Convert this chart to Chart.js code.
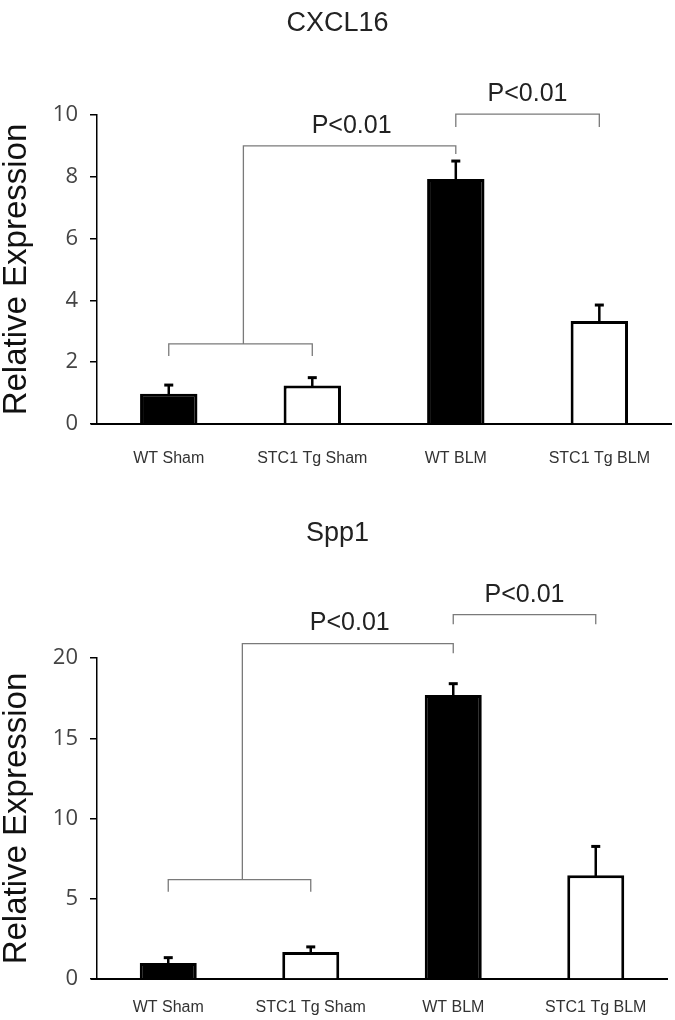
<!DOCTYPE html>
<html>
<head>
<meta charset="utf-8">
<script src="https://cdn.jsdelivr.net/npm/chart.js@4.4.0/dist/chart.umd.min.js"></script>
<style>
  html, body { margin: 0; padding: 0; background: #fff; }
  .box { position: relative; width: 675px; height: 510px; }
</style>
</head>
<body>
<div class="box"><canvas id="graficoCxcl16" width="675" height="510"></canvas></div>
<div class="box"><canvas id="graficoSpp1" width="675" height="510"></canvas></div>
<script>
// dados
const categories = ['WT Sham', 'STC1 Tg Sham', 'WT BLM', 'STC1 Tg BLM'];

const cxcl16Values = [0.98, 1.25, 7.93, 3.33];
const cxcl16Errors = [0.28, 0.25, 0.58, 0.52];
const cxcl16Ticks = { max: 10, step: 2 };

const spp1Values = [1.0, 1.69, 17.7, 6.46];
const spp1Errors = [0.33, 0.31, 0.7, 1.8];
const spp1Ticks = { max: 20, step: 5 };

// colchetes de significância (valores no eixo y)
const cxcl16Sig = { lowY: 2.59, lowDrop: 2.2, highY: 9.0, highDrop: 8.74, rightY: 10.03, rightDrop: 9.61 };
const spp1Sig = { lowY: 6.19, lowDrop: 5.44, highY: 20.9, highDrop: 20.3, rightY: 22.7, rightDrop: 22.1 };
const sigLabel = 'P<0.01';

const fillColors = ['#000', '#fff', '#000', '#fff'];

const extrasPlugin = {
  id: 'extras',
  afterDatasetsDraw(chart, args, opts) {
    const ctx = chart.ctx;
    const meta = chart.getDatasetMeta(0);
    const ys = chart.scales.y;
    const vals = chart.data.datasets[0].data;
    ctx.save();
    ctx.strokeStyle = '#000';
    opts.errors.forEach((e, i) => {
      const bar = meta.data[i];
      const yTop = ys.getPixelForValue(vals[i] + e);
      ctx.lineWidth = 2.5;
      ctx.beginPath();
      ctx.moveTo(bar.x, bar.y + 2);
      ctx.lineTo(bar.x, yTop);
      ctx.stroke();
      ctx.lineWidth = 3;
      ctx.beginPath();
      ctx.moveTo(bar.x - 4.5, yTop);
      ctx.lineTo(bar.x + 4.5, yTop);
      ctx.stroke();
    });
    ctx.restore();
  },
  afterDraw(chart, args, opts) {
    const ctx = chart.ctx;
    const xs = chart.scales.x;
    const ys = chart.scales.y;
    const s = opts.sig;
    const px = v => xs.getPixelForValue(v);
    const py = v => ys.getPixelForValue(v);
    ctx.save();
    // eixo x passa um pouco do eixo y, como no original
    ctx.strokeStyle = '#000';
    ctx.lineWidth = 2;
    ctx.beginPath();
    ctx.moveTo(chart.chartArea.left - 6, chart.chartArea.bottom);
    ctx.lineTo(chart.chartArea.left, chart.chartArea.bottom);
    ctx.stroke();

    ctx.strokeStyle = '#7a7a7a';
    ctx.lineWidth = 1.3;
    // colchete inferior (sham)
    ctx.beginPath();
    ctx.moveTo(px(0), py(s.lowDrop));
    ctx.lineTo(px(0), py(s.lowY));
    ctx.lineTo(px(1), py(s.lowY));
    ctx.lineTo(px(1), py(s.lowDrop));
    ctx.stroke();
    // haste até WT BLM
    const mid = px(0.52);
    ctx.beginPath();
    ctx.moveTo(mid, py(s.lowY));
    ctx.lineTo(mid, py(s.highY));
    ctx.lineTo(px(2), py(s.highY));
    ctx.lineTo(px(2), py(s.highDrop));
    ctx.stroke();
    // colchete WT BLM vs STC1 Tg BLM
    ctx.beginPath();
    ctx.moveTo(px(2), py(s.rightDrop));
    ctx.lineTo(px(2), py(s.rightY));
    ctx.lineTo(px(3), py(s.rightY));
    ctx.lineTo(px(3), py(s.rightDrop));
    ctx.stroke();

    ctx.fillStyle = '#222';
    ctx.textAlign = 'center';
    ctx.textBaseline = 'middle';
    ctx.font = '25px "Liberation Sans", Arial, sans-serif';
    ctx.fillText(sigLabel, (mid + px(2)) / 2 + 2, py(s.highY) - 20);
    ctx.fillText(sigLabel, (px(2) + px(3)) / 2, py(s.rightY) - 20);
    // titulo
    ctx.font = '27px "Liberation Sans", Arial, sans-serif';
    ctx.fillText(opts.title, chart.width / 2, 24);
    ctx.restore();
  }
};

function createGrafico(id, title, values, errors, ticks, sig, area) {
  const ctx = document.getElementById(id).getContext('2d');
  return new Chart(ctx, {
    type: 'bar',
    data: {
      labels: categories,
      datasets: [{
        data: values,
        backgroundColor: fillColors,
        borderColor: '#000',
        borderWidth: 3,
        borderSkipped: 'bottom',
        barPercentage: 0.4,
        categoryPercentage: 1
      }]
    },
    options: {
      responsive: false,
      animation: false,
      devicePixelRatio: 1,
      layout: { padding: { top: area.top, right: area.right, bottom: 0, left: 0 } },
      plugins: {
        legend: { display: false },
        tooltip: { enabled: false },
        extras: { title: title, errors: errors, sig: sig }
      },
      scales: {
        x: {
          grid: { display: false, drawTicks: false },
          border: { display: true, color: '#000', width: 2 },
          ticks: {
            color: '#333',
            padding: area.labelPad,
            maxRotation: 0,
            autoSkip: false,
            font: { family: '"Liberation Sans", Arial, sans-serif', size: 16 }
          },
          afterFit: (scale) => { scale.height = area.xHeight; }
        },
        y: {
          min: 0,
          max: ticks.max,
          grid: { display: true, drawOnChartArea: false, drawTicks: true, tickLength: 7, color: '#000', lineWidth: 1.5 },
          border: { display: true, color: '#000', width: 1.5 },
          ticks: {
            stepSize: ticks.step,
            color: '#444',
            padding: 12,
            font: { family: '"Open Sans", sans-serif', size: 22 }
          },
          title: {
            display: true,
            text: 'Relative Expression',
            color: '#111',
            padding: 0,
            font: { family: '"Liberation Sans", Arial, sans-serif', size: 33, lineHeight: 1 }
          },
          afterFit: (scale) => { scale.width = 97; }
        }
      }
    },
    plugins: [extrasPlugin]
  });
}

createGrafico('graficoCxcl16', 'CXCL16', cxcl16Values, cxcl16Errors, cxcl16Ticks, cxcl16Sig,
  { top: 115, right: 0, xHeight: 86, labelPad: 25 });
createGrafico('graficoSpp1', 'Spp1', spp1Values, spp1Errors, spp1Ticks, spp1Sig,
  { top: 148, right: 8, xHeight: 41, labelPad: 19 });
</script>
</body>
</html>
